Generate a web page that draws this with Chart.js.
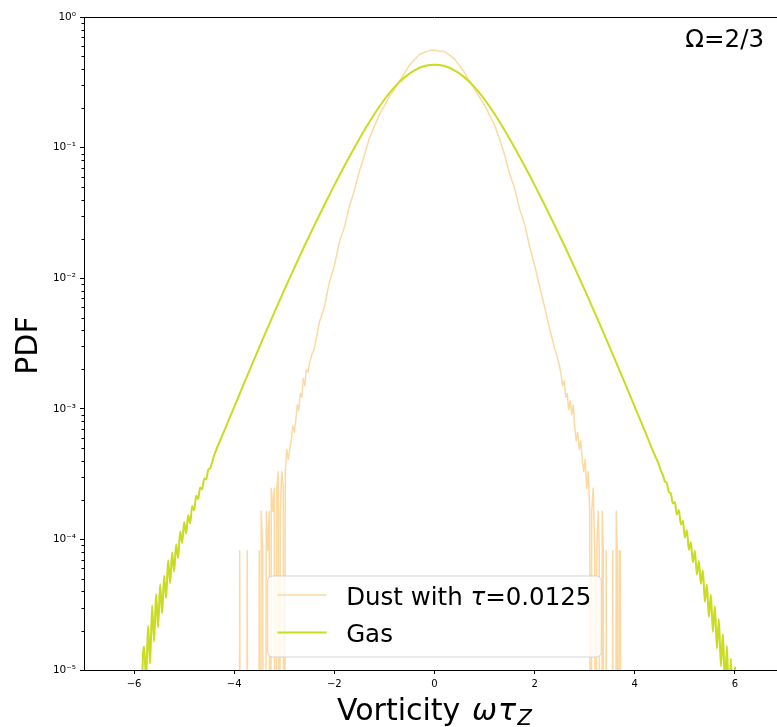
<!DOCTYPE html>
<html>
<head>
<meta charset="utf-8">
<title>Vorticity PDF</title>
<script src="https://cdn.jsdelivr.net/npm/chart.js@4.4.0/dist/chart.umd.min.js"></script>
<style>
  html, body { margin: 0; padding: 0; background: #fff; overflow: hidden; }
  #wrap { width: 777px; height: 727px; overflow: hidden; }
  canvas { display: block; }
</style>
</head>
<body>
<div id="wrap"><canvas id="pdfChart" width="790" height="727"></canvas></div>
<script>
// --- Data ---
const E = 1e-9; // empty histogram bin (drops below the log axis)

const gasX = [
    -5.88, -5.84, -5.80, -5.76, -5.72, -5.68, -5.64, -5.60, -5.56, -5.52,
    -5.48, -5.44, -5.40, -5.36, -5.32, -5.28, -5.24, -5.20, -5.16, -5.12,
    -5.08, -5.04, -5.00, -4.96, -4.92, -4.88, -4.84, -4.80, -4.76, -4.72,
    -4.68, -4.64, -4.60, -4.56, -4.52, -4.48, -4.40, -4.20, -4.00, -3.80,
    -3.60, -3.40, -3.20, -3.00, -2.80, -2.60, -2.40, -2.20, -2.00, -1.80,
    -1.60, -1.40, -1.20, -1.00, -0.80, -0.60, -0.40, -0.20, 0.00, 0.20,
    0.40, 0.60, 0.80, 1.00, 1.20, 1.40, 1.60, 1.80, 2.00, 2.20,
    2.40, 2.60, 2.80, 3.00, 3.20, 3.40, 3.60, 3.80, 4.00, 4.20,
    4.40, 4.48, 4.52, 4.56, 4.60, 4.64, 4.68, 4.72, 4.76, 4.80,
    4.84, 4.88, 4.92, 4.96, 5.00, 5.04, 5.08, 5.12, 5.16, 5.20,
    5.24, 5.28, 5.32, 5.36, 5.40, 5.44, 5.48, 5.52, 5.56, 5.60,
    5.64, 5.68, 5.72, 5.76, 5.80, 5.84, 5.88, 5.92, 5.96, 6.00,
    6.04
];
const gasY = [
    E, 6.3e-6, 1.51e-5, 8.4e-6, 2.18e-5, 1.12e-5, 3.12e-5, 1.65e-5, 3.82e-5, 2.12e-5,
    4.54e-5, 2.72e-5, 5.27e-5, 3.56e-5, 6.92e-5, 4.62e-5, 7.94e-5, 5.66e-5, 9.2e-5, 7.21e-5,
    1.15e-4, 9.4e-5, 1.36e-4, 1.11e-4, 1.53e-4, 1.33e-4, 1.80e-4, 1.67e-4, 2.16e-4, 2.04e-4,
    2.50e-4, 2.42e-4, 2.93e-4, 2.88e-4, 3.40e-4, 3.52e-4, 4.41e-4, 6.77e-4, 1.035e-3, 1.579e-3,
    2.399e-3, 3.627e-3, 5.45e-3, 8.13e-3, 1.201e-2, 1.756e-2, 2.538e-2, 3.635e-2, 5.16e-2, 7.23e-2,
    9.99e-2, 0.1359, 0.1809, 0.2336, 0.2904, 0.3450, 0.3907, 0.4209, 0.4315, 0.4209,
    0.3907, 0.3450, 0.2904, 0.2336, 0.1809, 0.1359, 9.99e-2, 7.23e-2, 5.16e-2, 3.635e-2,
    2.538e-2, 1.756e-2, 1.201e-2, 8.13e-3, 5.45e-3, 3.627e-3, 2.399e-3, 1.579e-3, 1.035e-3, 6.77e-4,
    4.41e-4, 3.75e-4, 3.36e-4, 3.12e-4, 2.78e-4, 2.70e-4, 2.31e-4, 2.25e-4, 1.88e-4, 1.93e-4,
    1.55e-4, 1.68e-4, 1.30e-4, 1.39e-4, 1.035e-4, 1.18e-4, 8.32e-5, 9.51e-5, 6.68e-5, 8.18e-5,
    5.37e-5, 6.84e-5, 4.57e-5, 5.78e-5, 3.33e-5, 4.51e-5, 2.55e-5, 3.77e-5, 1.96e-5, 3.08e-5,
    1.46e-5, 2.45e-5, 1.07e-5, 1.88e-5, 7.6e-6, 1.53e-5, 5.8e-6, 1.22e-5, 4.6e-6, 1.05e-5,
    E
];

const dustX = [
    -3.91, -3.89, -3.87, -3.76, -3.74, -3.72, -3.52, -3.50, -3.48, -3.46,
    -3.43, -3.41, -3.38, -3.36, -3.33, -3.30, -3.28, -3.26, -3.23, -3.20,
    -3.18, -3.15, -3.12, -3.10, -3.08, -3.05, -3.02, -3.00, -2.98, -2.95,
    -2.92, -2.89, -2.86, -2.83, -2.80, -2.77, -2.74, -2.71, -2.68, -2.65,
    -2.62, -2.59, -2.56, -2.53, -2.50, -2.45, -2.40, -2.30, -2.20, -2.10,
    -2.00, -1.90, -1.80, -1.70, -1.60, -1.50, -1.40, -1.30, -1.20, -1.10,
    -1.00, -0.90, -0.80, -0.70, -0.60, -0.50, -0.40, -0.30, -0.20, -0.10,
    0.00, 0.10, 0.20, 0.30, 0.40, 0.50, 0.60, 0.70, 0.80, 0.90,
    1.00, 1.10, 1.20, 1.30, 1.40, 1.50, 1.60, 1.70, 1.80, 1.90,
    2.00, 2.10, 2.20, 2.30, 2.40, 2.45, 2.50, 2.53, 2.56, 2.59,
    2.62, 2.65, 2.68, 2.71, 2.74, 2.77, 2.80, 2.83, 2.86, 2.89,
    2.92, 2.95, 2.98, 3.01, 3.04, 3.07, 3.10, 3.12, 3.14, 3.17,
    3.20, 3.22, 3.24, 3.27, 3.29, 3.31, 3.33, 3.35, 3.37, 3.39,
    3.41, 3.43, 3.45, 3.54, 3.56, 3.58, 3.61, 3.63, 3.65, 3.67,
    3.69, 3.71, 3.73
];
const dustY = [
    E, 8.2e-5, E, E, 8.2e-5, E, E, 8.2e-5, E, 1.64e-4,
    8.2e-5, E, E, 1.64e-4, 8.2e-5, 1.64e-4, E, 2.46e-4, 1.64e-4, 2.46e-4,
    E, 2.46e-4, 3.3e-4, E, 1.64e-4, 3.3e-4, 2.46e-4, E, 3.3e-4, 4.9e-4,
    4.1e-4, 4.9e-4, 5.7e-4, 7.4e-4, 6.6e-4, 8.2e-4, 1.07e-3, 9.8e-4, 1.31e-3, 1.23e-3,
    1.7e-3, 1.5e-3, 2.0e-3, 1.9e-3, 2.2e-3, 2.6e-3, 2.9e-3, 4.6e-3, 6.0e-3, 9.3e-3,
    1.25e-2, 1.89e-2, 2.45e-2, 3.56e-2, 4.70e-2, 6.60e-2, 8.70e-2, 0.118, 0.146, 0.179,
    0.209, 0.247, 0.278, 0.323, 0.370, 0.428, 0.470, 0.516, 0.537, 0.553,
    0.556, 0.549, 0.543, 0.510, 0.476, 0.424, 0.374, 0.320, 0.282, 0.243,
    0.212, 0.177, 0.149, 0.116, 8.80e-2, 6.30e-2, 4.90e-2, 3.38e-2, 2.58e-2, 1.75e-2,
    1.25e-2, 8.6e-3, 6.0e-3, 4.1e-3, 2.9e-3, 2.5e-3, 2.1e-3, 1.8e-3, 1.5e-3, 1.64e-3,
    1.23e-3, 1.31e-3, 9.8e-4, 1.15e-3, 9.0e-4, 1.07e-3, 7.4e-4, 5.7e-4, 6.6e-4, 4.9e-4,
    5.7e-4, 4.1e-4, 3.3e-4, 4.1e-4, 2.46e-4, 3.3e-4, 1.64e-4, E, 1.64e-4, 2.46e-4,
    8.2e-5, E, 8.2e-5, 1.64e-4, 8.2e-5, E, E, 1.64e-4, 8.2e-5, E,
    E, 8.2e-5, E, E, 8.2e-5, E, E, 1.64e-4, 8.2e-5, E,
    8.2e-5, 8.2e-5, E
];

const xTickValues = [-6, -4, -2, 0, 2, 4, 6];
const xTickLabels = ['\u22126', '\u22124', '\u22122', '0', '2', '4', '6'];
const yTickValues = [1e-5, 1e-4, 1e-3, 1e-2, 1e-1, 1];
const yTickLabels = ['10⁻⁵', '10⁻⁴', '10⁻³', '10⁻²', '10⁻¹', '10⁰'];

// --- Styling ---
const FONT = '"DejaVu Sans", sans-serif';
const DUST_COLOR = '#fcd9a2';
const GAS_COLOR = '#c9dc1f';

// minor log ticks (2..9 in every decade)
const yMinorTicks = [];
yTickValues.slice(0, -1).forEach(d => {
    for (let k = 2; k <= 9; k++) yMinorTicks.push(k * d);
});

const toPoints = (xs, ys) => xs.map((x, i) => ({ x: x, y: ys[i] }));

// draw a run of text pieces with different fonts on one baseline
function drawRich(ctx, parts, x, y, align) {
    let total = 0;
    parts.forEach(p => {
        ctx.font = p.font;
        p.w = ctx.measureText(p.text).width + (p.gap || 0);
        total += p.w;
    });
    let cx = align === 'center' ? x - total / 2 : (align === 'right' ? x - total : x);
    ctx.textAlign = 'left';
    ctx.textBaseline = 'alphabetic';
    parts.forEach(p => {
        ctx.font = p.font;
        ctx.fillText(p.text, cx, y + (p.dy || 0));
        cx += p.w;
    });
    return total;
}

// --- Spines, minor ticks, labels and legend ---
const figureDecor = {
    id: 'figureDecor',
    afterDraw(chart) {
        const ctx = chart.ctx;
        const a = chart.chartArea;
        const yScale = chart.scales.y;
        ctx.save();

        // top / right spines
        ctx.strokeStyle = '#000';
        ctx.lineWidth = 1;
        ctx.beginPath();
        ctx.moveTo(a.left, a.top + 0.5);
        ctx.lineTo(a.right, a.top + 0.5);
        ctx.moveTo(a.right - 0.5, a.top);
        ctx.lineTo(a.right - 0.5, a.bottom);
        ctx.stroke();

        // minor ticks on the log axis
        ctx.beginPath();
        yMinorTicks.forEach(v => {
            const py = Math.round(yScale.getPixelForValue(v)) + 0.5;
            ctx.moveTo(a.left - 2.5, py);
            ctx.lineTo(a.left, py);
        });
        ctx.stroke();

        ctx.fillStyle = '#000';

        // x axis title with math subscript
        const f30 = '30px ' + FONT;
        const i30 = 'italic 30px ' + FONT;
        const i21 = 'italic 21px ' + FONT;
        drawRich(ctx, [
            { text: 'Vorticity ', font: f30, gap: 2 },
            { text: 'ω', font: i30, gap: 1 },
            { text: 'τ', font: i30, gap: 1.5 },
            { text: 'Z', font: i21, dy: 5 }
        ], (a.left + a.right) / 2, 720, 'center');

        // y axis title
        ctx.save();
        ctx.translate(37, (a.top + a.bottom) / 2 + 2);
        ctx.rotate(-Math.PI / 2);
        ctx.font = f30;
        ctx.textAlign = 'center';
        ctx.textBaseline = 'alphabetic';
        ctx.fillText('PDF', 0, 0);
        ctx.restore();

        // annotation
        const f24 = '24.5px ' + FONT;
        const i24 = 'italic 24.5px ' + FONT;
        drawRich(ctx, [{ text: 'Ω=2/3', font: f24 }], a.right - 21, 47, 'right');

        // legend box (lower center)
        const em = 24.5;
        const ds = chart.data.datasets;
        const rows = [
            { ds: ds[0], parts: [
                { text: 'Dust with ', font: f24 },
                { text: 'τ', font: i24 },
                { text: '=0.0125', font: f24 }
            ] },
            { ds: ds[1], parts: [{ text: 'Gas', font: f24 }] }
        ];
        let maxW = 0;
        rows.forEach(r => {
            let w = 0;
            r.parts.forEach(p => { ctx.font = p.font; w += ctx.measureText(p.text).width; });
            maxW = Math.max(maxW, w);
        });
        const boxW = 0.4 * em * 2 + 2 * em + 0.8 * em + maxW;
        const boxH = 81;
        const boxL = (a.left + a.right) / 2 - boxW / 2;
        const boxT = a.bottom - 13 - boxH;

        ctx.beginPath();
        ctx.roundRect(boxL, boxT, boxW, boxH, 5);
        ctx.fillStyle = 'rgba(255,255,255,0.8)';
        ctx.fill();
        ctx.strokeStyle = 'rgba(204,204,204,0.8)';
        ctx.lineWidth = 1;
        ctx.stroke();

        rows.forEach((r, i) => {
            const rowY = boxT + 19 + i * 37.5;
            const lx = boxL + 0.4 * em;
            ctx.strokeStyle = r.ds.borderColor;
            ctx.lineWidth = r.ds.borderWidth;
            ctx.beginPath();
            ctx.moveTo(lx, rowY);
            ctx.lineTo(lx + 2 * em, rowY);
            ctx.stroke();
            ctx.fillStyle = '#000';
            drawRich(ctx, r.parts, lx + 2.8 * em, rowY + 9.5, 'left');
        });

        ctx.restore();
    }
};

new Chart(document.getElementById('pdfChart'), {
    type: 'line',
    data: {
        datasets: [
            {
                label: 'Dust with τ=0.0125',
                data: toPoints(dustX, dustY),
                borderColor: DUST_COLOR,
                borderWidth: 1.5,
                pointRadius: 0,
                tension: 0,
                borderJoinStyle: 'round',
                order: 1
            },
            {
                label: 'Gas',
                data: toPoints(gasX, gasY),
                borderColor: GAS_COLOR,
                borderWidth: 2,
                pointRadius: 0,
                cubicInterpolationMode: 'monotone',
                borderJoinStyle: 'round',
                order: 0
            }
        ]
    },
    options: {
        responsive: false,
        animation: false,
        devicePixelRatio: 1,
        events: [],
        layout: { padding: { top: 17, right: 5, bottom: 0, left: 0 } },
        plugins: {
            legend: { display: false },
            tooltip: { enabled: false }
        },
        scales: {
            x: {
                type: 'linear',
                min: -7,
                max: 7,
                afterBuildTicks: scale => {
                    scale.ticks = xTickValues.map(v => ({ value: v }));
                },
                afterFit: scale => { scale.height = 57; },
                ticks: {
                    color: '#000',
                    padding: 4,
                    maxRotation: 0,
                    autoSkip: false,
                    font: { family: FONT, size: 10 },
                    callback: (v) => xTickLabels[xTickValues.indexOf(v)]
                },
                grid: {
                    drawOnChartArea: false,
                    drawTicks: true,
                    tickLength: 4,
                    tickColor: '#000'
                },
                border: { display: true, color: '#000', width: 1 }
            },
            y: {
                type: 'logarithmic',
                min: 1e-5,
                max: 1,
                afterBuildTicks: scale => {
                    scale.ticks = yTickValues.map(v => ({ value: v }));
                },
                afterFit: scale => { scale.width = 84; },
                ticks: {
                    color: '#000',
                    padding: 4,
                    autoSkip: false,
                    font: { family: FONT, size: 10.5 },
                    callback: (v) => {
                        const i = yTickValues.findIndex(t => Math.abs(Math.log10(t) - Math.log10(v)) < 1e-6);
                        return i >= 0 ? yTickLabels[i] : '';
                    }
                },
                grid: {
                    drawOnChartArea: false,
                    drawTicks: true,
                    tickLength: 4,
                    tickColor: '#000'
                },
                border: { display: true, color: '#000', width: 1 }
            }
        }
    },
    plugins: [figureDecor]
});
</script>
</body>
</html>
